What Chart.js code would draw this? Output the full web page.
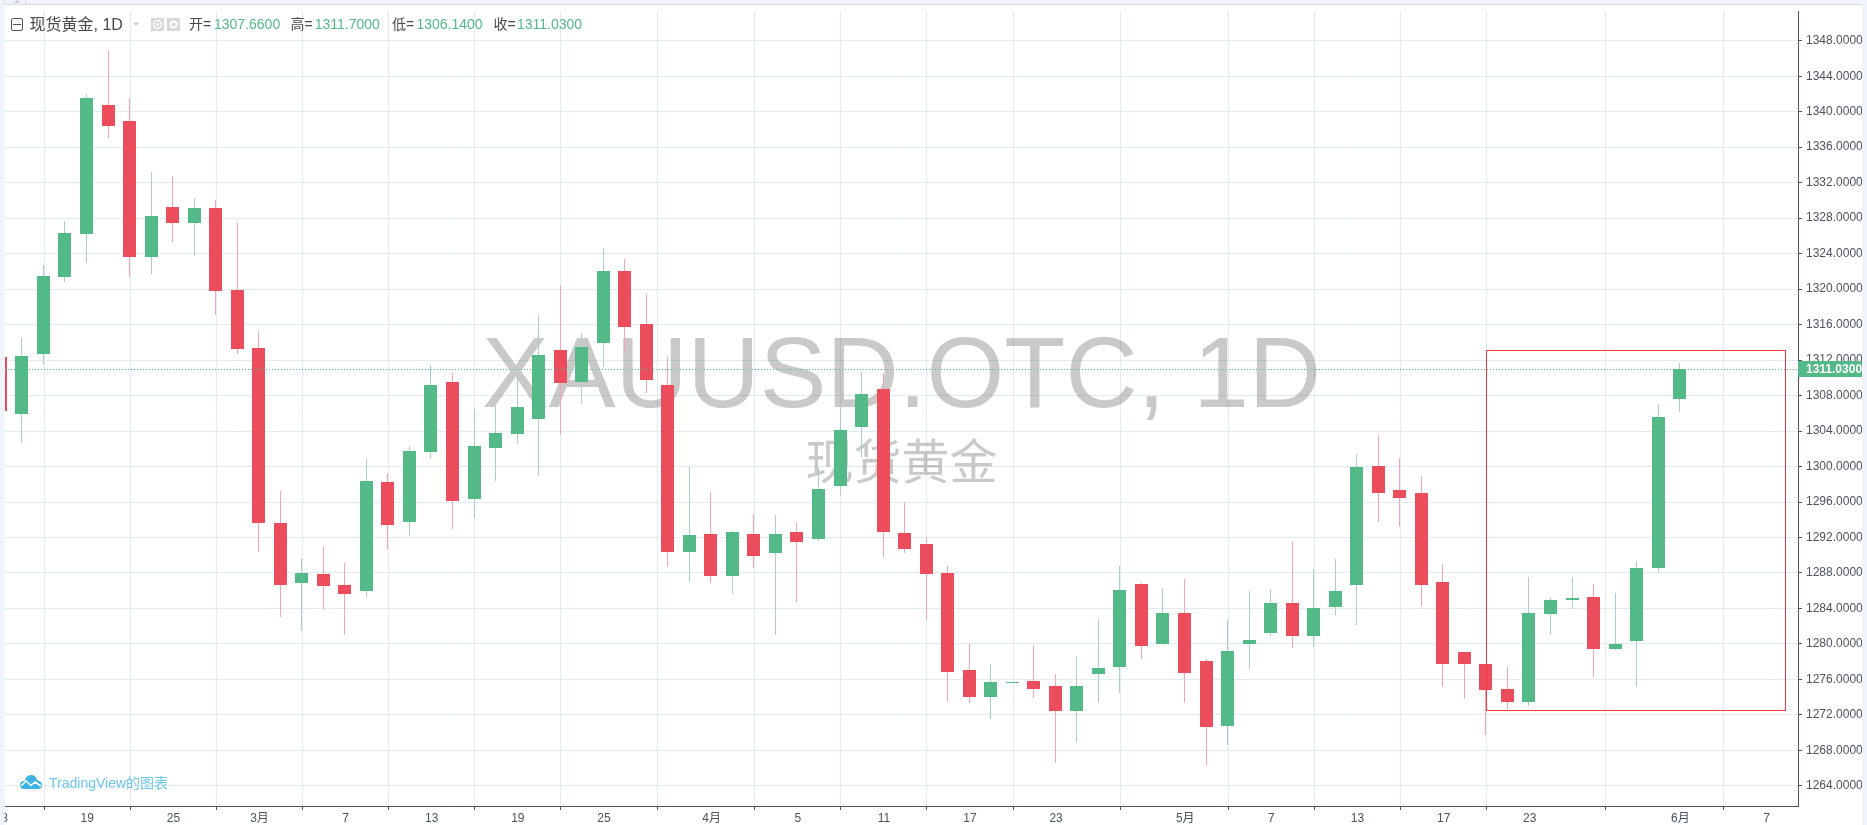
<!DOCTYPE html>
<html><head><meta charset="utf-8">
<style>html,body{margin:0;padding:0;background:#fff;overflow:hidden}canvas{display:block}</style>
<script src="https://cdn.jsdelivr.net/npm/chart.js@4"></script></head>
<body><canvas id="c" width="1867" height="825"></canvas>
<script>
const days = [-4,-3,-2,-1,0,1,2,3,4,5,6,7,8,9,10,11,12,13,14,15,16,17,18,19,20,21,22,23,24,25,26,27,28,29,30,31,32,33,34,35,36,37,38,39,40,41,42,43,44,45,46,47,48,49,50,51,52,53,54,55,56,57,58,59,60,61,62,63,64,65,66,67,68,69,70,71,72,73,74];
const opens = [1312.4,1305.9,1312.7,1321.4,1326.2,1340.7,1338.9,1323.6,1329.3,1327.5,1329.1,1319.9,1313.4,1293.6,1286.9,1287.9,1286.7,1286,1298.2,1293.8,1301.6,1309.5,1296.3,1302.1,1303.7,1305.4,1313.1,1309.5,1313.9,1322,1316.1,1309.2,1290.4,1292.4,1287.7,1292.4,1290.2,1292.6,1291.8,1297.8,1304.4,1308.7,1292.5,1291.3,1288,1277.1,1274,1275.6,1275.8,1275.3,1272.4,1276.6,1277.4,1286.8,1280,1283.5,1278.1,1270.7,1280,1281.2,1284.6,1280.9,1284.2,1286.6,1300.1,1297.3,1297,1287,1279.1,1277.7,1274.9,1273.4,1283.4,1284.9,1285.3,1279.4,1280.3,1288.6,1307.66];
const highs = [1312.8,1314.5,1322.7,1327.7,1342,1346.9,1341.6,1333.2,1332.7,1330.3,1330,1327.4,1315.3,1297.2,1289.7,1291,1289.1,1300.9,1299.3,1302.3,1311.4,1310.5,1306.5,1306.8,1310.5,1317.1,1320.5,1315.1,1324.6,1323.4,1319.5,1312.5,1299.9,1297.1,1292.7,1294.7,1294.5,1293.7,1299.8,1307.1,1310.7,1310.5,1296,1292,1288.8,1280,1277.7,1275.7,1279.9,1276.6,1278.6,1282.8,1288.8,1286.9,1286.3,1287.3,1278.3,1282.7,1286,1286.2,1291.6,1288.4,1289.6,1301.4,1303.5,1301,1298.9,1289,1279.1,1277.7,1277.4,1287.5,1285.3,1287.6,1286.8,1285.7,1289.4,1307.1,1311.7];
const lows = [1305.9,1302.7,1311.6,1320.8,1323,1337,1321.4,1321.7,1325.3,1323.7,1317.1,1312.7,1290.4,1283,1281.5,1283.8,1281,1285.3,1290.6,1292.2,1300.8,1293,1294.2,1298.4,1302.5,1298.9,1303.5,1307,1311.2,1312.9,1308.3,1288.7,1287,1286.9,1285.6,1288.6,1281,1284.7,1291.6,1296.8,1301.1,1289.8,1290.2,1282.7,1273.5,1273.3,1271.5,1275.6,1273.9,1266.6,1268.9,1273.5,1274.5,1278.3,1279.9,1273.3,1266.4,1268.6,1277.2,1280.9,1279.5,1279.7,1283.3,1282.1,1293.8,1293.2,1284.3,1275.2,1273.8,1269.7,1272.7,1273,1281,1283.9,1276.3,1279.3,1275.2,1288,1306.14];
const closes = [1306.3,1312.5,1321.5,1326.3,1341.6,1338.4,1323.6,1328.2,1327.5,1329.1,1319.8,1313.2,1293.6,1286.7,1288,1286.5,1285.6,1298.4,1293.4,1301.7,1309.2,1296.1,1302.3,1303.8,1306.7,1312.6,1309.4,1313.5,1322,1315.7,1309.7,1290.4,1292.3,1287.7,1292.6,1289.9,1292.4,1291.5,1297.5,1304.1,1308.2,1292.6,1290.7,1287.9,1276.8,1274,1275.7,1275.7,1274.9,1272.4,1275.3,1277.3,1286.1,1279.8,1283.5,1276.7,1270.6,1279.2,1280.5,1284.6,1280.9,1284,1286,1299.9,1297,1296.5,1286.7,1277.7,1277.7,1274.8,1273.4,1283.5,1285,1285.2,1279.4,1280,1288.6,1305.6,1311.03];
const xTickDays = [-4,0,4,8,12,16,20,24,29,33,37,41,45,51,55,59,63,67,74,78];
const xTickLabels = ['13','19','25','3月','7','13','19','25','4月','5','11','17','23','5月','7','13','17','23','6月','7'];
const xRange = [-3.822, 79.46];
const yRange = [1261.73, 1351.33];
const boxDays = [64.95, 78.87];
const boxPrices = [1272.6, 1313.17];
const watermark = ['XAUUSD.OTC, 1D', '现货黄金'];
const title = '现货黄金, 1D';
const ohlcNames = ['开=', '高=', '低=', '收='];
const logoText = 'TradingView的图表';

const UP = '#53b987', DOWN = '#eb4d5c', UPW = '#a9cdd3', DOWNW = '#f7a5b0';
const FONT = '"Liberation Sans","Noto Sans CJK SC",sans-serif';
const TXT = '#4c525e';
const last = closes.length - 1;
const isUp = i => closes[i] >= opens[i];

const snapBars = {
  id: 'snapBars',
  afterDatasetsUpdate(chart) {
    chart.data.datasets.forEach((ds, d) => {
      chart.getDatasetMeta(d).data.forEach(el => {
        el.x = Math.floor(el.x - 0.8) + 0.5;
        el.y = Math.round(el.y);
        el.base = Math.round(el.base);
        if (el.y === el.base) el.base = el.y + 1;
      });
    });
  }
};

const under = {
  id: 'under',
  beforeDatasetsDraw(chart) {
    const { ctx, chartArea: a } = chart;
    ctx.save();
    ctx.beginPath(); ctx.rect(a.left, a.top, a.right - a.left, a.bottom - a.top); ctx.clip();
    ctx.fillStyle = 'rgba(100,100,100,0.35)';
    ctx.textAlign = 'center'; ctx.textBaseline = 'alphabetic';
    const cx = (a.left + a.right) / 2;
    ctx.font = '100px ' + FONT;
    ctx.fillText(watermark[0], cx, 407);
    ctx.font = '48px ' + FONT;
    ctx.fillText(watermark[1], cx, 479);
    ctx.restore();
  }
};

const over = {
  id: 'over',
  afterDatasetsDraw(chart) {
    const { ctx, chartArea: a, scales: { x, y } } = chart;
    const py = Math.round(y.getPixelForValue(closes[last])) + 0.5;
    ctx.save();
    ctx.strokeStyle = UP; ctx.lineWidth = 1; ctx.setLineDash([1, 2]);
    ctx.beginPath(); ctx.moveTo(a.left, py); ctx.lineTo(a.right, py); ctx.stroke();
    ctx.setLineDash([]);
    ctx.strokeStyle = '#f23645';
    const bx = Math.round(x.getPixelForValue(boxDays[0])) + 0.5, bx2 = Math.round(x.getPixelForValue(boxDays[1])) + 0.5;
    const by = Math.round(y.getPixelForValue(boxPrices[1])) + 0.5, by2 = Math.round(y.getPixelForValue(boxPrices[0])) + 0.5;
    ctx.strokeRect(bx, by, bx2 - bx, by2 - by);
    ctx.fillStyle = UP;
    ctx.fillRect(a.right, py - 8.5, 64, 16);
    ctx.fillStyle = '#fff';
    ctx.font = 'bold 12px ' + FONT; ctx.textAlign = 'left'; ctx.textBaseline = 'middle';
    ctx.fillText(closes[last].toFixed(4), a.right + 8, py);
    ctx.restore();
  },
  afterDraw(chart) {
    const { ctx, width: W, height: H } = chart;
    ctx.save();
    // outer panes
    ctx.fillStyle = '#f0f3fa';
    ctx.fillRect(0, 0, 4.5, H); ctx.fillRect(1862, 0, W - 1862, H); ctx.fillRect(0, 0, W, 4);
    ctx.fillStyle = '#d5dae3'; ctx.fillRect(4, 4, 1858, 1); ctx.fillRect(4, 0, 1, 5); ctx.fillRect(25, 0, 1, 4);
    ctx.fillStyle = '#c8ccd4';
    ctx.beginPath(); ctx.moveTo(14, 3); ctx.lineTo(20, 3); ctx.lineTo(17, 0); ctx.fill();
    // header
    ctx.strokeStyle = '#555'; ctx.lineWidth = 1;
    ctx.beginPath(); ctx.roundRect(11.5, 18.5, 11, 12, 1.5); ctx.moveTo(13, 24.5); ctx.lineTo(21, 24.5); ctx.stroke();
    ctx.textBaseline = 'alphabetic'; ctx.textAlign = 'left';
    ctx.fillStyle = '#4a4a4a'; ctx.font = '16px ' + FONT;
    ctx.fillText(title, 29.5, 30);
    ctx.fillStyle = '#cfcfcf';
    ctx.beginPath(); ctx.moveTo(132.5, 22.5); ctx.lineTo(139.5, 22.5); ctx.lineTo(136, 26); ctx.fill();
    ctx.fillStyle = '#d8d8d8'; ctx.fillRect(151, 18, 13, 13); ctx.fillRect(167, 18, 13, 13);
    ctx.strokeStyle = '#fff'; ctx.lineWidth = 1.4;
    ctx.beginPath(); ctx.arc(157.5, 24.5, 4, 0, 7); ctx.stroke();
    ctx.fillStyle = '#fff'; ctx.beginPath(); ctx.arc(157.5, 24.5, 1.5, 0, 7); ctx.fill();
    ctx.lineWidth = 2; ctx.beginPath(); ctx.arc(173.5, 24.5, 3, 0, 7); ctx.stroke();
    const nx = [189, 290.5, 392, 493.5], vx = [214, 314.7, 416.4, 517];
    const vals = [opens[last], highs[last], lows[last], closes[last]];
    ctx.font = '14px ' + FONT;
    vals.forEach((v, i) => {
      ctx.fillStyle = '#4a4a4a'; ctx.fillText(ohlcNames[i], nx[i], 29);
      ctx.fillStyle = UP; ctx.fillText(v.toFixed(4), vx[i], 29);
    });
    // logo
    ctx.fillStyle = '#3bb3e4';
    ctx.beginPath();
    ctx.arc(24, 785, 4, Math.PI / 2, Math.PI * 1.5);
    ctx.arc(31, 781, 6, Math.PI, Math.PI * 1.9);
    ctx.arc(38, 785, 4, -Math.PI / 2, Math.PI / 2);
    ctx.closePath(); ctx.fill();
    ctx.strokeStyle = '#fff'; ctx.lineWidth = 1.6;
    ctx.beginPath(); ctx.moveTo(21, 786); ctx.lineTo(26, 781); ctx.lineTo(31, 785.5); ctx.lineTo(35, 782); ctx.lineTo(41, 786); ctx.stroke();
    ctx.fillStyle = '#6fc7ee'; ctx.font = '14px ' + FONT;
    ctx.fillText(logoText, 49, 788);
    ctx.restore();
  }
};

new Chart(document.getElementById('c'), {
  type: 'bar',
  plugins: [snapBars, under, over],
  data: {
    datasets: [
      { label: 'body', barThickness: 13, grouped: false, inflateAmount: 0,
        data: days.map((d, i) => ({ x: d, y: [opens[i], closes[i]] })),
        backgroundColor: days.map((d, i) => isUp(i) ? UP : DOWN) },
      { label: 'wick', barThickness: 1, grouped: false, inflateAmount: 0,
        data: days.map((d, i) => ({ x: d, y: [lows[i], highs[i]] })),
        backgroundColor: days.map((d, i) => isUp(i) ? UPW : DOWNW) }
    ]
  },
  options: {
    responsive: false, animation: false,
    layout: { padding: { left: 5, top: 5, right: 0, bottom: 0 } },
    plugins: { legend: { display: false }, tooltip: { enabled: false }, title: { display: false } },
    scales: {
      x: {
        type: 'linear', min: xRange[0], max: xRange[1], offset: false,
        afterBuildTicks(s) { s.ticks = xTickDays.map(v => ({ value: v })); },
        afterFit(s) { s.height = 19; s.paddingLeft = 0; s.paddingRight = 0; },
        grid: { color: '#e1ecf2', lineWidth: 1, tickColor: '#50535e', tickLength: 4 },
        border: { color: '#50535e', width: 1 },
        ticks: {
          autoSkip: false, maxRotation: 0, minRotation: 0, padding: 1, color: TXT,
          font: { family: FONT, size: 12 },
          callback(v) { return xTickLabels[xTickDays.indexOf(v)]; }
        }
      },
      y: {
        position: 'right', min: yRange[0], max: yRange[1],
        afterFit(s) { s.width = 69; },
        grid: { color: '#e1ecf2', lineWidth: 1, tickColor: '#50535e', tickLength: 4 },
        border: { color: '#50535e', width: 1 },
        ticks: {
          stepSize: 4, includeBounds: false, autoSkip: false, padding: 4, color: TXT,
          font: { family: FONT, size: 12 },
          callback(v) { return v.toFixed(4); }
        }
      }
    }
  }
});
</script></body></html>
